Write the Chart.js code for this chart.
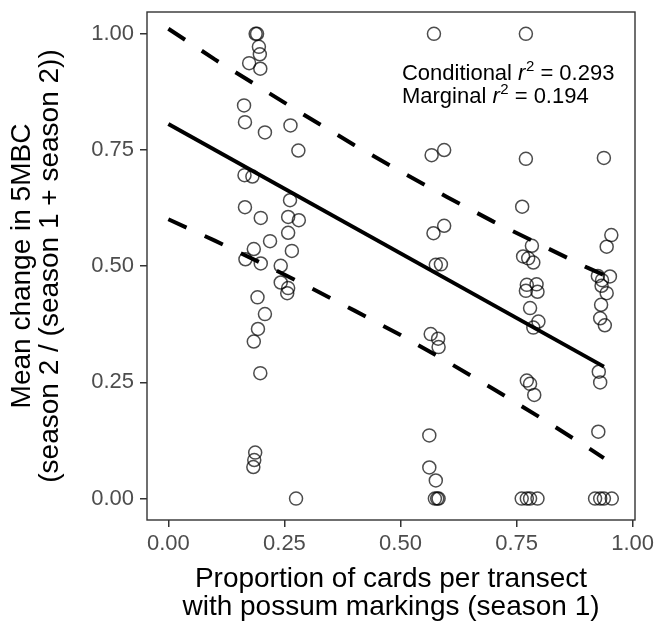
<!DOCTYPE html>
<html><head><meta charset="utf-8">
<script src="https://cdn.jsdelivr.net/npm/chart.js@4.4.1/dist/chart.umd.min.js"></script>
<style>html,body{margin:0;padding:0;background:#fff}#wrap{width:656px;height:626px;position:relative}</style>
</head><body><div id="wrap"><canvas id="c" width="656" height="626"></canvas></div>
<script>
// ---- data ----
const xTicks = [0, 0.25, 0.5, 0.75, 1];
const yTicks = [0, 0.25, 0.5, 0.75, 1];

const pointX = [
  0.188,0.191,0.195,0.197,0.174,0.198,0.163,0.165,0.208,0.263,0.280,0.164,0.181,0.262,0.165,0.199,0.258,0.281,0.258,
  0.219,0.266,0.184,0.166,0.199,0.242,0.242,0.258,0.256,0.192,0.208,0.193,0.184,0.198,0.187,0.185,0.183,0.275,
  0.572,0.567,0.594,0.571,0.594,0.576,0.587,0.565,0.581,0.582,0.562,0.562,0.576,0.574,0.579,0.582,
  0.770,0.770,0.762,0.783,0.764,0.775,0.786,0.772,0.793,0.770,0.795,0.779,0.797,0.786,0.772,0.779,0.788,0.761,0.772,0.779,0.795,
  0.938,0.954,0.944,0.925,0.951,0.934,0.933,0.944,0.932,0.930,0.940,0.927,0.930,0.926,0.919,0.930,0.938,0.955
];
const pointY = [
  1.000,1.000,0.972,0.956,0.937,0.925,0.846,0.810,0.788,0.803,0.749,0.696,0.693,0.642,0.627,0.604,0.606,0.599,0.572,
  0.554,0.533,0.537,0.515,0.506,0.501,0.465,0.453,0.442,0.433,0.397,0.365,0.338,0.270,0.099,0.083,0.068,0.000,
  1.000,0.739,0.750,0.571,0.587,0.503,0.504,0.354,0.344,0.326,0.136,0.067,0.039,0.000,0.000,0.000,
  1.000,0.731,0.628,0.544,0.521,0.517,0.508,0.460,0.461,0.447,0.445,0.410,0.381,0.368,0.254,0.247,0.223,0.000,0.000,0.000,0.000,
  0.733,0.567,0.542,0.479,0.478,0.470,0.458,0.442,0.417,0.388,0.373,0.273,0.250,0.144,0.000,0.000,0.000,0.000
];

const fitX = [0, 0.938];
const fitY = [0.806, 0.284];

const bandX  = [0, 0.10, 0.20, 0.30, 0.40, 0.50, 0.60, 0.70, 0.80, 0.90, 0.938];
const upperY = [1.011, 0.945, 0.883, 0.821, 0.761, 0.704, 0.649, 0.596, 0.547, 0.498, 0.481];
const lowerY = [0.601, 0.555, 0.507, 0.457, 0.405, 0.352, 0.295, 0.236, 0.175, 0.112, 0.087];

const annLabels = ["Conditional", "Marginal"];
const annValues = ["0.293", "0.194"];

const xTitle = ["Proportion of cards per transect", "with possum markings (season 1)"];
const yTitle = ["Mean change in 5MBC", "(season 2 / (season 1 + season 2))"];

// ---- chart ----
const FONT = '"Liberation Sans", Arial, Helvetica, sans-serif';
const toXY = (xs, ys) => xs.map((x, i) => ({x: x, y: ys[i]}));

const framePlugin = {
  id: 'frame',
  afterDraw(chart) {
    const {ctx, chartArea: a} = chart;
    ctx.save();
    ctx.strokeStyle = '#333333';
    ctx.lineWidth = 1.4;
    ctx.strokeRect(a.left, a.top, a.right - a.left, a.bottom - a.top);
    ctx.restore();
  }
};

const annPlugin = {
  id: 'ann',
  afterDatasetsDraw(chart, args, opts) {
    const ctx = chart.ctx;
    const xs = chart.scales.x, ys = chart.scales.y;
    ctx.save();
    ctx.fillStyle = '#000';
    ctx.textBaseline = 'alphabetic';
    ctx.textAlign = 'left';
    annLabels.forEach((lab, i) => {
      let x = xs.getPixelForValue(opts.x);
      const y = ys.getPixelForValue(opts.y[i]);
      ctx.font = '22px ' + FONT;
      ctx.fillText(lab + ' ', x, y);
      x += ctx.measureText(lab + ' ').width;
      ctx.font = 'italic 22px ' + FONT;
      ctx.fillText('r', x, y);
      x += ctx.measureText('r').width + 0.5;
      ctx.font = '15px ' + FONT;
      ctx.fillText('2', x, y - 9);
      x += ctx.measureText('2').width;
      ctx.font = '22px ' + FONT;
      ctx.fillText(' = ' + annValues[i], x, y);
    });
    ctx.restore();
  }
};

new Chart(document.getElementById('c'), {
  type: 'scatter',
  data: {
    datasets: [
      {data: toXY(fitX, fitY), showLine: true, pointRadius: 0, borderColor: '#000', borderWidth: 4, order: 0},
      {data: toXY(bandX, upperY), showLine: true, pointRadius: 0, borderColor: '#000', borderWidth: 4, borderDash: [20, 20], order: 0},
      {data: toXY(bandX, lowerY), showLine: true, pointRadius: 0, borderColor: '#000', borderWidth: 4, borderDash: [20, 20], order: 0},
      {data: toXY(pointX, pointY), showLine: false, pointRadius: 6.5, pointBorderWidth: 1.5,
       pointBorderColor: 'rgba(0,0,0,0.7)', pointBackgroundColor: 'rgba(0,0,0,0)', order: 1}
    ]
  },
  options: {
    responsive: false,
    animation: false,
    devicePixelRatio: 1,
    layout: {padding: {left: 0, right: 21, top: 12, bottom: 0}},
    plugins: {
      legend: {display: false},
      tooltip: {enabled: false},
      ann: {x: 0.503, y: [0.901, 0.851]}
    },
    scales: {
      x: {
        type: 'linear', min: -0.046, max: 1.005,
        afterBuildTicks: s => { s.ticks = xTicks.map(v => ({value: v})); },
        afterFit: s => { s.height = 106; s.paddingLeft = 0; s.paddingRight = 0; },
        ticks: {callback: v => Number(v).toFixed(2), font: {family: FONT, size: 22}, color: '#4d4d4d', padding: 4, maxRotation: 0, autoSkip: false},
        grid: {drawOnChartArea: false, drawTicks: true, tickLength: 7, color: '#333333', lineWidth: 1.5},
        border: {display: false},
        title: {display: true, text: xTitle, color: '#000', font: {family: FONT, size: 28, lineHeight: 1}, padding: {top: 0, bottom: 4.5}}
      },
      y: {
        type: 'linear', min: -0.046, max: 1.047,
        afterBuildTicks: s => { s.ticks = yTicks.map(v => ({value: v})); },
        afterFit: s => { s.width = 147; s.paddingTop = 0; s.paddingBottom = 0; },
        ticks: {callback: v => Number(v).toFixed(2), font: {family: FONT, size: 22}, color: '#4d4d4d', padding: 6, autoSkip: false},
        grid: {drawOnChartArea: false, drawTicks: true, tickLength: 7, color: '#333333', lineWidth: 1.5},
        border: {display: false},
        title: {display: true, text: yTitle, color: '#000', font: {family: FONT, size: 28, lineHeight: 1}, padding: {top: 8, bottom: 0}}
      }
    }
  },
  plugins: [framePlugin, annPlugin]
});
</script></body></html>
